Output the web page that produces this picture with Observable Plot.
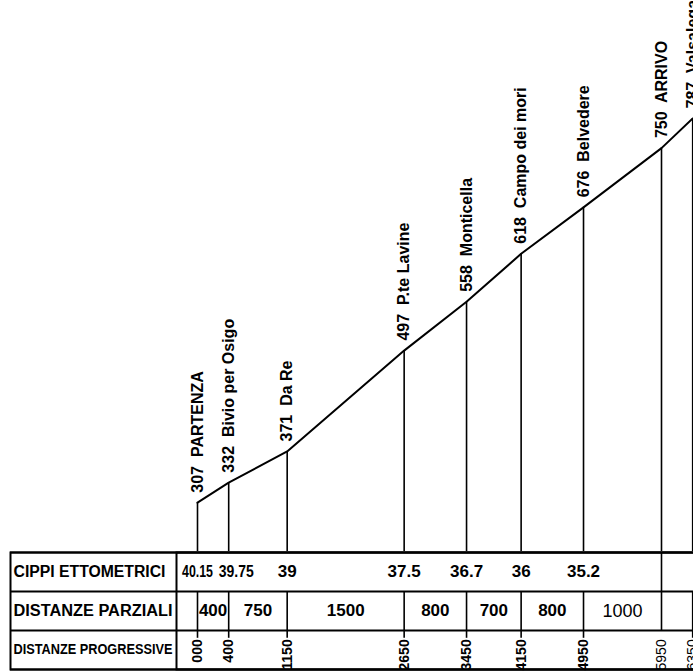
<!DOCTYPE html>
<html><head><meta charset="utf-8">
<script src="https://cdn.jsdelivr.net/npm/d3@7"></script>
<script src="https://cdn.jsdelivr.net/npm/@observablehq/plot@0.6"></script>
<style>
html,body{margin:0;padding:0;background:#fff;}
#chart svg{display:block;}
</style></head><body><div id="chart"></div>
<script>
// Progressive distances (m), elevations (m) and place names
const distances = [0, 400, 1150, 2650, 3450, 4150, 4950, 5950, 6350];
const elevations = [307, 332, 371, 497, 558, 618, 676, 750, 787];
const places = ["PARTENZA", "Bivio per Osigo", "Da Re", "P.te Lavine", "Monticella", "Campo dei mori", "Belvedere", "ARRIVO", "Valsalega"];
const progLabels = ["000", "400", "1150", "2650", "3450", "4150", "4950", "5950", "6350"];
const cippiLabels = ["40.15", "39.75", "39", "37.5", "36.7", "36", "35.2"];
const partials = [400, 750, 1500, 800, 700, 800, 1000];
const rowLabels = ["CIPPI ETTOMETRICI", "DISTANZE PARZIALI", "DISTANZE PROGRESSIVE"];
const baseElevation = 246; // elevation of the profile's base line (top of the table)

const points = distances.map((d, i) => ({d, elev: elevations[i], place: places[i], prog: progLabels[i]}));
const arrivo = distances[places.indexOf("ARRIVO")];

const W = 693;
const font = "'Liberation Sans', Arial, Helvetica, sans-serif";
const xScale = {domain: [0, 5950], range: [197, 661], axis: null};

const profile = Plot.plot({
  width: W, height: 551, margin: 0,
  style: {fontFamily: font, background: "white", color: "black"},
  x: xScale,
  y: {domain: [baseElevation, 787], range: [551, 118], axis: null},
  marks: [
    Plot.ruleX(points, {x: "d", y1: () => baseElevation, y2: "elev", stroke: "black", strokeWidth: 1.6}),
    Plot.line(points, {x: "d", y: "elev", stroke: "black", strokeWidth: 2}),
    Plot.text(points, {x: "d", y: "elev", text: p => `${p.elev}\u00a0 ${p.place}`, rotate: -90,
      textAnchor: "start", dy: -10, fontSize: 16, fontWeight: "bold", fill: "black"})
  ]
});

const bold = {fontWeight: "bold", fill: "black"};
const table = Plot.plot({
  width: W, height: 120, margin: 0,
  style: {fontFamily: font, background: "white", color: "black"},
  x: xScale,
  y: {domain: [0, 3], range: [1, 118], axis: null},
  marks: [
    Plot.ruleY([0, 1, 2, 3], {insetLeft: 10, stroke: "black", strokeWidth: 2}),
    Plot.frame({insetLeft: 10, insetRight: -10, insetTop: 1, insetBottom: 2, stroke: "black", strokeWidth: 2}),
    Plot.frame({insetLeft: 176, insetRight: -10, insetTop: 1, insetBottom: 2, stroke: "black", strokeWidth: 2}),
    // row 1 : ARRIVO line spans rows 1-2
    Plot.ruleX([arrivo], {x: d => d, y1: () => 0, y2: () => 2, stroke: "black", strokeWidth: 1.6}),
    // rows 2-3 separators
    Plot.ruleX(distances.filter(d => d !== arrivo), {x: d => d, y1: () => 1, y2: () => 2.2, stroke: "black", strokeWidth: 1.6}),
    // row labels
    Plot.text(rowLabels, {frameAnchor: "left", y: (d, i) => i + 0.5, dx: 13, textAnchor: "start", fontSize: 16, ...bold}),
    // row 1 : cippi ettometrici
    Plot.text(cippiLabels, {filter: (d, i) => i !== 1, x: (d, i) => distances[i], y: () => 0.5, fontSize: 17, ...bold}),
    Plot.text(cippiLabels, {filter: (d, i) => i === 1, x: (d, i) => distances[i], y: () => 0.5, textAnchor: "start", dx: -10, fontSize: 17, ...bold}),
    // row 2 : partial distances
    Plot.text(partials, {filter: (d, i) => i < partials.length - 1, x: (d, i) => (distances[i] + distances[i + 1]) / 2, y: () => 1.5, text: d => String(d), fontSize: 17, ...bold}),
    Plot.text(partials, {filter: (d, i) => i === partials.length - 1, x: (d, i) => (distances[i] + distances[i + 1]) / 2, y: () => 1.5, text: d => String(d), fontSize: 18, fill: "black"}),
    // row 3 : progressive distances
    Plot.text(progLabels, {filter: (d, i) => i < 7, x: (d, i) => distances[i], y: () => 2.2, rotate: -90, textAnchor: "end", dy: 1, fontSize: 14, ...bold}),
    Plot.text(progLabels, {filter: (d, i) => i >= 7, x: (d, i) => distances[i], y: () => 2.2, rotate: -90, textAnchor: "end", dy: 1, fontSize: 14, fill: "black"})
  ]
});

// squeeze the row labels to the width of the label column, and the two crowded first cippi
const squeeze = {"CIPPI ETTOMETRICI": [16, 152], "DISTANZE PARZIALI": [16, 159], "DISTANZE PROGRESSIVE": [14, 159], "40.15": [17, 31], "39.75": [17, 35]};
d3.select(table).selectAll("text").each(function () {
  const s = squeeze[this.textContent];
  if (s) d3.select(this).attr("font-size", s[0]).attr("textLength", s[1]).attr("lengthAdjust", "spacingAndGlyphs");
});

document.getElementById("chart").append(profile, table);
</script></body></html>
